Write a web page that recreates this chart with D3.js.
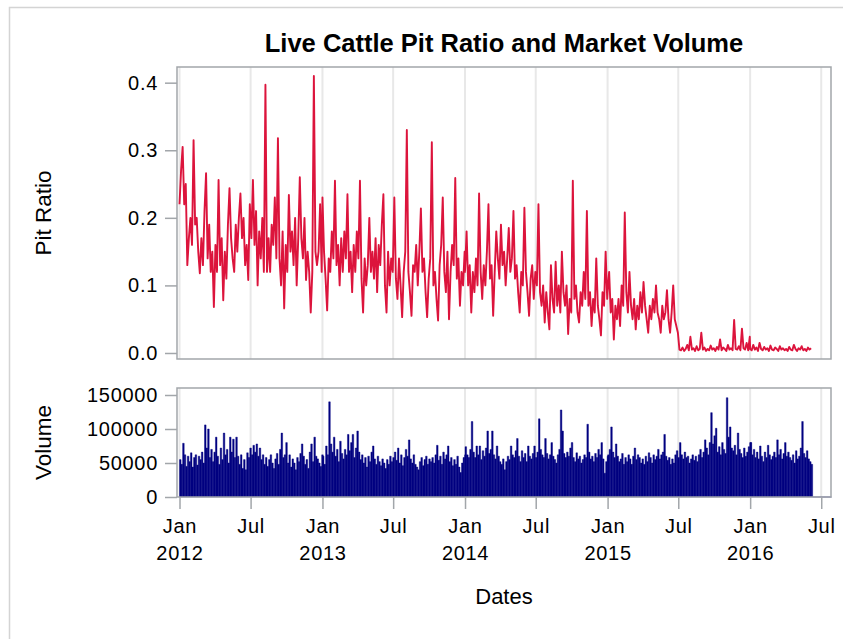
<!DOCTYPE html>
<html>
<head>
<meta charset="utf-8">
<script src="https://cdn.jsdelivr.net/npm/d3@7"></script>
<style>
  body { margin: 0; background: #fff; }
  text { font-family: "Liberation Sans", Arial, sans-serif; fill: #000; }
</style>
</head>
<body>
<div id="chart"></div>
<script>
// one value every 4 calendar days from Jan 1 of each year
var pit2012 = [0.22,0.27,0.305,0.22,0.25,0.13,0.17,0.2,0.16,0.315,
  0.19,0.2,0.15,0.118,0.17,0.13,0.21,0.266,0.14,0.19,
  0.12,0.15,0.068,0.16,0.12,0.256,0.13,0.17,0.078,0.15,
  0.11,0.19,0.244,0.17,0.14,0.12,0.19,0.15,0.2,0.236,
  0.17,0.2,0.13,0.16,0.108,0.22,0.17,0.256,0.16,0.21,
  0.1,0.18,0.14,0.2,0.12,0.397,0.12,0.17,0.12,0.19,
  0.16,0.23,0.14,0.318,0.14,0.1,0.18,0.066,0.16,0.12,
  0.234,0.15,0.18,0.13,0.2,0.1,0.17,0.26,0.17,0.14,
  0.2,0.108,0.15,0.12,0.06,0.12,0.41,0.15,0.13,0.15,
  0.22,0.12];
var pit2013 = [0.23,0.15,0.11,0.063,0.14,0.12,0.18,0.14,0.255,0.13,
  0.16,0.1,0.17,0.12,0.18,0.14,0.235,0.12,0.15,0.09,
  0.16,0.12,0.18,0.14,0.255,0.11,0.06,0.14,0.1,0.13,
  0.2,0.12,0.15,0.11,0.17,0.09,0.16,0.13,0.19,0.235,
  0.1,0.06,0.15,0.1,0.14,0.12,0.23,0.11,0.08,0.14,
  0.1,0.053,0.12,0.15,0.33,0.12,0.09,0.055,0.13,0.12,
  0.16,0.1,0.15,0.214,0.12,0.14,0.09,0.053,0.11,0.14,
  0.312,0.1,0.12,0.08,0.048,0.13,0.16,0.23,0.12,0.09,
  0.15,0.05,0.12,0.16,0.13,0.259,0.11,0.14,0.07,0.12,
  0.1,0.15];
var pit2014 = [0.12,0.18,0.1,0.13,0.06,0.12,0.09,0.14,0.1,0.236,
  0.12,0.08,0.13,0.1,0.15,0.22,0.11,0.13,0.055,0.12,
  0.18,0.14,0.11,0.19,0.13,0.15,0.1,0.14,0.185,0.12,
  0.14,0.21,0.11,0.13,0.09,0.06,0.12,0.1,0.215,0.12,
  0.09,0.055,0.11,0.13,0.08,0.12,0.1,0.22,0.09,0.07,
  0.1,0.045,0.09,0.06,0.035,0.13,0.08,0.06,0.135,0.07,
  0.1,0.06,0.15,0.09,0.07,0.1,0.028,0.08,0.06,0.255,
  0.08,0.1,0.06,0.045,0.09,0.07,0.12,0.08,0.21,0.07,
  0.09,0.04,0.08,0.06,0.14,0.07,0.05,0.026,0.09,0.07,
  0.15,0.08];
var pit2015 = [0.09,0.12,0.06,0.08,0.02,0.07,0.05,0.08,0.04,0.1,
  0.07,0.208,0.09,0.06,0.12,0.07,0.05,0.08,0.035,0.07,
  0.05,0.09,0.06,0.105,0.07,0.05,0.03,0.07,0.05,0.08,
  0.06,0.1,0.06,0.05,0.03,0.07,0.05,0.06,0.093,0.05,
  0.03,0.06,0.1,0.05,0.04,0.03,0.005,0.004,0.008,0.003,
  0.006,0.012,0.004,0.024,0.005,0.007,0.003,0.01,0.004,0.006,
  0.03,0.005,0.008,0.003,0.006,0.004,0.011,0.005,0.007,0.003,
  0.009,0.005,0.02,0.004,0.008,0.006,0.003,0.012,0.005,0.007,
  0.004,0.049,0.006,0.005,0.01,0.004,0.036,0.007,0.005,0.015,
  0.004,0.024];
var pit2016 = [0.006,0.004,0.012,0.005,0.008,0.003,0.015,0.006,0.004,0.009,
  0.005,0.007,0.003,0.011,0.005,0.004,0.008,0.006,0.003,0.01,
  0.005,0.007,0.004,0.006,0.003,0.009,0.005,0.004,0.012,0.006,
  0.003,0.007,0.005,0.01,0.004,0.006,0.003,0.008,0.005,0.007];

var vol2012 = [55000,48000,79000,62000,45000,60000,52000,65000,44000,58000,
  62000,47000,60000,55000,66000,50000,106000,72000,100000,58000,
  70000,52000,66000,88000,60000,48000,72000,55000,94000,62000,
  70000,50000,88000,66000,85000,58000,88000,60000,48000,62000,
  42000,55000,40000,65000,58000,72000,62000,76000,66000,78000,
  60000,72000,55000,62000,48000,58000,45000,55000,62000,50000,
  42000,56000,64000,48000,70000,94000,58000,62000,80000,50000,
  62000,44000,56000,50000,40000,58000,52000,64000,78000,60000,
  48000,55000,42000,66000,78000,52000,88000,60000,56000,50000,
  45000,62000];
var vol2013 = [60000,48000,75000,62000,140000,78000,66000,88000,60000,70000,
  52000,82000,64000,56000,70000,62000,92000,68000,80000,92000,
  58000,72000,97000,66000,55000,62000,50000,58000,44000,60000,
  52000,66000,75000,56000,48000,60000,52000,46000,56000,50000,
  42000,55000,48000,60000,52000,58000,66000,54000,72000,50000,
  62000,46000,58000,70000,60000,84000,56000,50000,62000,48000,
  44000,40000,52000,58000,46000,55000,60000,48000,56000,52000,
  58000,50000,62000,76000,54000,60000,48000,66000,56000,62000,
  75000,52000,58000,46000,55000,48000,60000,44000,36000,50000,
  58000,62000];
var vol2014 = [74000,62000,58000,70000,111000,66000,58000,75000,62000,75000,
  55000,68000,60000,72000,97000,64000,70000,97000,62000,56000,
  75000,60000,52000,48000,56000,40000,52000,60000,55000,75000,
  62000,58000,68000,86000,60000,52000,68000,58000,64000,52000,
  75000,60000,56000,64000,75000,58000,66000,115000,70000,62000,
  58000,86000,64000,56000,62000,80000,60000,55000,50000,62000,
  70000,128000,97000,64000,58000,66000,60000,72000,80000,58000,
  52000,65000,56000,60000,50000,55000,62000,58000,107000,66000,
  56000,60000,52000,64000,58000,70000,62000,80000,56000,35000,
  52000,60000];
var vol2015 = [62000,70000,103000,66000,58000,78000,60000,52000,56000,64000,
  48000,58000,52000,62000,56000,48000,60000,72000,55000,62000,
  58000,50000,56000,48000,60000,52000,65000,58000,50000,62000,
  55000,60000,70000,56000,62000,66000,92000,60000,54000,58000,
  48000,56000,50000,62000,68000,58000,80000,62000,56000,66000,
  58000,60000,50000,56000,62000,54000,60000,52000,62000,70000,
  58000,66000,84000,72000,62000,80000,124000,78000,90000,101000,
  66000,74000,62000,80000,70000,64000,146000,88000,103000,72000,
  68000,76000,62000,94000,70000,64000,58000,72000,60000,66000,
  74000,80000];
var vol2016 = [80000,62000,70000,58000,66000,56000,75000,60000,52000,66000,
  58000,76000,62000,55000,60000,66000,58000,84000,62000,70000,
  56000,64000,80000,60000,66000,58000,54000,62000,50000,68000,
  56000,60000,72000,111000,64000,58000,68000,56000,52000,48000,
  0,0,0,0,0,0,0,0,0,0,0,0];

var years = [2012, 2013, 2014, 2015, 2016];
var pitByYear = [pit2012, pit2013, pit2014, pit2015, pit2016];
var volByYear = [vol2012, vol2013, vol2014, vol2015, vol2016];
var stepDays = 4;

var pitTicks = [0, 0.1, 0.2, 0.3, 0.4];
var volTicks = [0, 50000, 100000, 150000];

var title = "Live Cattle Pit Ratio and Market Volume";

// build rows
var pitData = [], volData = [];
years.forEach(function(yr, k) {
    var start = new Date(yr, 0, 1);
    pitByYear[k].forEach(function(v, i) {
        pitData.push({date: d3.timeDay.offset(start, i * stepDays), value: v});
    });
    volByYear[k].forEach(function(v, i) {
        volData.push({date: d3.timeDay.offset(start, i * stepDays), value: v});
    });
});

var width = 843,
    height = 639;

var left = 177, right = 831;
var top1 = 67, bottom1 = 359;
var top2 = 388, bottom2 = 497;

var svg = d3.select("#chart")
    .append("svg")
    .attr("width", width)
    .attr("height", height);

// outer border
svg.append("rect")
    .attr("x", 9.5).attr("y", 7.5)
    .attr("width", 900).attr("height", 700)
    .attr("fill", "none")
    .attr("stroke", "#d4d4d4")
    .attr("stroke-width", 1.5);

var x = d3.scaleTime()
    .domain([new Date(2011, 11, 25, 14), new Date(2016, 6, 26)])
    .range([left, right]);

var yPit = d3.scaleLinear()
    .domain([-0.0089, 0.4232])
    .range([bottom1, top1]);

var yVol = d3.scaleLinear()
    .domain([0, 160300])
    .range([bottom2, top2]);

var xTicks = d3.timeMonth.every(6).range(new Date(2012, 0, 1), new Date(2016, 7, 1));

// vertical grid lines in both panels
[[top1, bottom1], [top2, bottom2]].forEach(function(p) {
    svg.append("g")
        .selectAll("line")
        .data(xTicks)
        .enter().append("line")
        .attr("x1", function(d) { return x(d); })
        .attr("x2", function(d) { return x(d); })
        .attr("y1", p[0])
        .attr("y2", p[1])
        .attr("stroke", "#e8e8e8")
        .attr("stroke-width", 2);
});

// pit ratio line
var line = d3.line()
    .x(function(d) { return x(d.date); })
    .y(function(d) { return yPit(d.value); });

svg.append("path")
    .datum(pitData)
    .attr("fill", "none")
    .attr("stroke", "#dc143c")
    .attr("stroke-width", 1.9)
    .attr("stroke-linejoin", "round")
    .attr("d", line);

// volume bars
var bw = x(d3.timeDay.offset(new Date(2012, 0, 1), stepDays)) - x(new Date(2012, 0, 1));
svg.append("g")
    .selectAll("path")
    .data(volData)
    .enter().append("path")
    .attr("d", function(d) {
        var x0 = x(d.date), y0 = yVol(0);
        return "M" + x0 + "," + y0 + "V" + yVol(d.value) + "H" + (x0 + bw) + "V" + y0 + "Z";
    })
    .attr("fill", "#000080")
    .attr("stroke", "#000080")
    .attr("stroke-opacity", 0.55)
    .attr("stroke-width", 0.8);

// frames
[[top1, bottom1], [top2, bottom2]].forEach(function(p) {
    svg.append("rect")
        .attr("x", left).attr("y", p[0])
        .attr("width", right - left).attr("height", p[1] - p[0])
        .attr("fill", "none")
        .attr("stroke", "#a2a6aa")
        .attr("stroke-width", 1.5);
});

function styleAxis(g) {
    g.select(".domain").remove();
    g.selectAll(".tick line").attr("stroke", "#a2a6aa").attr("stroke-width", 1.5);
    g.selectAll(".tick text")
        .attr("font-size", 20)
        .attr("letter-spacing", "0.7px")
        .attr("fill", "#000");
}

svg.append("g")
    .attr("transform", "translate(" + left + ",0)")
    .call(d3.axisLeft(yPit).tickValues(pitTicks).tickFormat(d3.format(".1f"))
        .tickSize(12).tickPadding(7))
    .call(styleAxis);

svg.append("g")
    .attr("transform", "translate(" + left + ",0)")
    .call(d3.axisLeft(yVol).tickValues(volTicks).tickFormat(d3.format("d"))
        .tickSize(12).tickPadding(7))
    .call(styleAxis);

var xAxis = svg.append("g")
    .attr("transform", "translate(0," + bottom2 + ")")
    .call(d3.axisBottom(x).tickValues(xTicks).tickFormat(d3.timeFormat("%b"))
        .tickSize(12).tickPadding(10))
    .call(styleAxis);

xAxis.selectAll(".tick text")
    .each(function(d) {
        if (d.getMonth() === 0) {
            d3.select(this).append("tspan")
                .attr("x", 0)
                .attr("dy", "1.35em")
                .text(d.getFullYear());
        }
    });

// titles
svg.append("text")
    .attr("x", (left + right) / 2)
    .attr("y", 52)
    .attr("text-anchor", "middle")
    .attr("font-size", 25.5)
    .attr("font-weight", "bold")
    .text(title);

svg.append("text")
    .attr("x", (left + right) / 2)
    .attr("y", 604)
    .attr("text-anchor", "middle")
    .attr("font-size", 22)
    .text("Dates");

svg.append("text")
    .attr("transform", "translate(51," + (top1 + bottom1) / 2 + ") rotate(-90)")
    .attr("text-anchor", "middle")
    .attr("font-size", 22.5)
    .text("Pit Ratio");

svg.append("text")
    .attr("transform", "translate(51," + (top2 + bottom2) / 2 + ") rotate(-90)")
    .attr("text-anchor", "middle")
    .attr("font-size", 22.5)
    .text("Volume");
</script>
</body>
</html>
